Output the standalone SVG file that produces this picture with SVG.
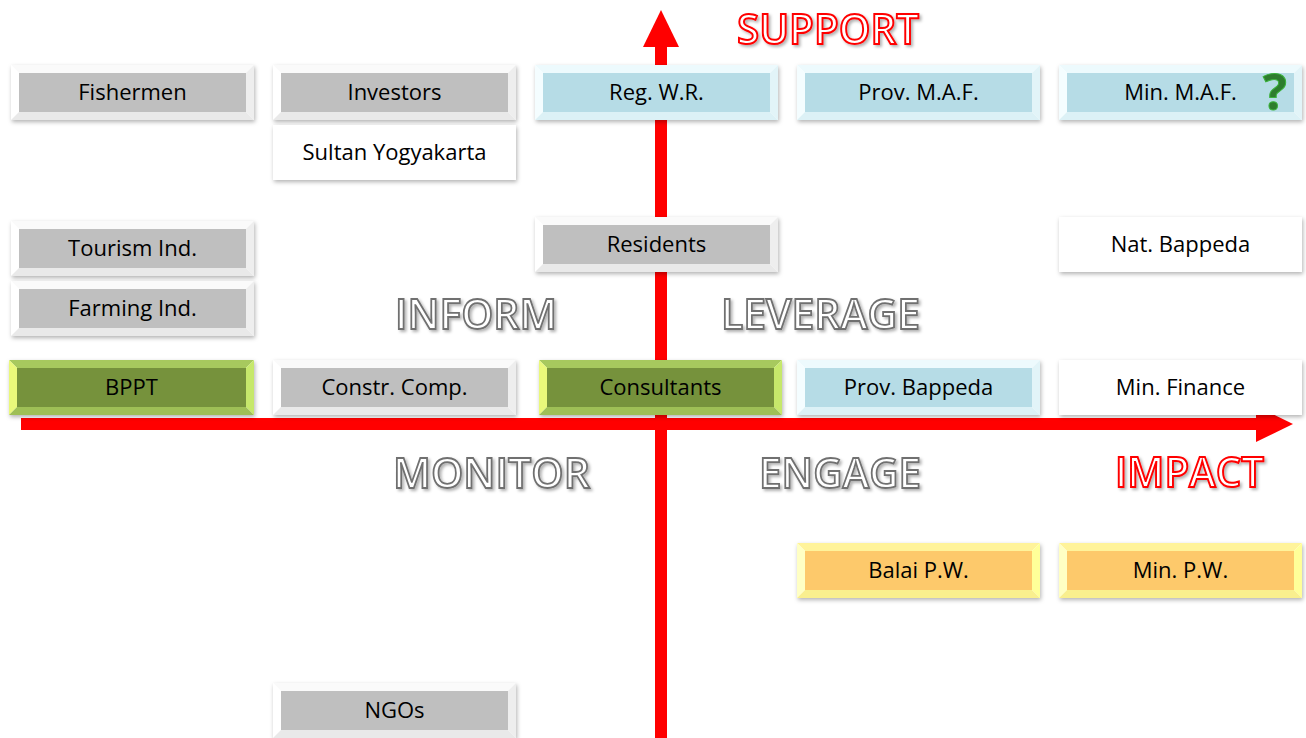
<svg xmlns="http://www.w3.org/2000/svg" width="1306" height="738" viewBox="0 0 1306 738">
  <defs>
    <filter id="boxShadow" x="-10%" y="-30%" width="120%" height="160%">
      <feDropShadow dx="1" dy="2" stdDeviation="2.2" flood-color="#000" flood-opacity="0.3"/>
    </filter>
    <filter id="textShadow" x="-10%" y="-30%" width="120%" height="160%">
      <feDropShadow dx="2" dy="2" stdDeviation="1.5" flood-color="#000" flood-opacity="0.3"/>
    </filter>
    <style>
      .lbl { font-family: "Open Sans", "Liberation Sans", sans-serif; font-size: 22px; fill: #000; text-anchor: middle; }
      .quad { font-family: "Open Sans", "Liberation Sans", sans-serif; font-weight: 600; font-size: 42px; fill: #fff; stroke: #707070; stroke-width: 1.8; filter: url(#textShadow); }
      .axis { font-family: "Open Sans", "Liberation Sans", sans-serif; font-weight: 600; font-size: 42px; fill: #fff; stroke: #ff0000; stroke-width: 2; filter: url(#textShadow); }
      .q { font-family: "Open Sans", "Liberation Sans", sans-serif; font-weight: 700; font-size: 50px; fill: #2e7d2e; stroke: #3bb33b; stroke-width: 1; }
      .arrow { fill: #ff0000; }
      .frame { filter: url(#boxShadow); }
      /* grey bevel */
      .grey .bt { fill: #fafafa; } .grey .bl { fill: #ffffff; } .grey .br { fill: #eeeeee; } .grey .bb { fill: #e9e9e9; } .grey .in { fill: #bfbfbf; }
      /* blue bevel */
      .blue .bt { fill: #edfafd; } .blue .bl { fill: #f4fdff; } .blue .br { fill: #e2f4f8; } .blue .bb { fill: #dcf1f6; } .blue .in { fill: #b6dce6; }
      /* green bevel */
      .green .bt { fill: #a7c95e; } .green .bl { fill: #e9f87b; } .green .br { fill: #c6e86b; } .green .bb { fill: #9ebf56; } .green .in { fill: #76923c; }
      /* orange bevel */
      .orange .bt { fill: #fff39a; } .orange .bl { fill: #ffffc4; } .orange .br { fill: #ffff99; } .orange .bb { fill: #f9ef8e; } .orange .in { fill: #fdc96b; }
      .plain .in { fill: #ffffff; }
    </style>
  </defs>

  <rect width="1306" height="738" fill="#ffffff"/>

  <!-- axes -->
  <g id="connectors">
    <rect class="arrow" x="655" y="45" width="12" height="693"/>
    <polygon class="arrow" points="661,10 643,47 679,47"/>
    <rect class="arrow" x="21" y="418" width="1237" height="12"/>
    <polygon class="arrow" points="1256,406 1293,424 1256,442"/>
  </g>

  <!-- quadrant and axis titles -->
  <g id="titles">
    <text class="axis" x="737" y="44" textLength="182" lengthAdjust="spacingAndGlyphs">SUPPORT</text>
    <text class="axis" x="1115" y="487" textLength="149" lengthAdjust="spacingAndGlyphs">IMPACT</text>
    <text class="quad" x="395" y="329" textLength="162" lengthAdjust="spacingAndGlyphs">INFORM</text>
    <text class="quad" x="721" y="329" textLength="199" lengthAdjust="spacingAndGlyphs">LEVERAGE</text>
    <text class="quad" x="393" y="488" textLength="197" lengthAdjust="spacingAndGlyphs">MONITOR</text>
    <text class="quad" x="759" y="488" textLength="162" lengthAdjust="spacingAndGlyphs">ENGAGE</text>
  </g>

  <!-- stakeholders -->
  <g id="fishermen" class="grey" transform="translate(11,65)">
    <rect class="frame" width="243" height="55" fill="#fff"/>
    <polygon class="bt" points="0,0 243,0 235,8 8,8"/><polygon class="bl" points="0,0 8,8 8,47 0,55"/><polygon class="br" points="243,0 243,55 235,47 235,8"/><polygon class="bb" points="0,55 8,47 235,47 243,55"/>
    <rect class="in" x="8" y="8" width="227" height="39"/>
    <text class="lbl" x="121.5" y="35">Fishermen</text>
  </g>
  <g id="investors" class="grey" transform="translate(273,65)">
    <rect class="frame" width="243" height="55" fill="#fff"/>
    <polygon class="bt" points="0,0 243,0 235,8 8,8"/><polygon class="bl" points="0,0 8,8 8,47 0,55"/><polygon class="br" points="243,0 243,55 235,47 235,8"/><polygon class="bb" points="0,55 8,47 235,47 243,55"/>
    <rect class="in" x="8" y="8" width="227" height="39"/>
    <text class="lbl" x="121.5" y="35">Investors</text>
  </g>
  <g id="reg-wr" class="blue" transform="translate(535,65)">
    <rect class="frame" width="243" height="55" fill="#fff"/>
    <polygon class="bt" points="0,0 243,0 235,8 8,8"/><polygon class="bl" points="0,0 8,8 8,47 0,55"/><polygon class="br" points="243,0 243,55 235,47 235,8"/><polygon class="bb" points="0,55 8,47 235,47 243,55"/>
    <rect class="in" x="8" y="8" width="227" height="39"/>
    <text class="lbl" x="121.5" y="35">Reg. W.R.</text>
  </g>
  <g id="prov-maf" class="blue" transform="translate(797,65)">
    <rect class="frame" width="243" height="55" fill="#fff"/>
    <polygon class="bt" points="0,0 243,0 235,8 8,8"/><polygon class="bl" points="0,0 8,8 8,47 0,55"/><polygon class="br" points="243,0 243,55 235,47 235,8"/><polygon class="bb" points="0,55 8,47 235,47 243,55"/>
    <rect class="in" x="8" y="8" width="227" height="39"/>
    <text class="lbl" x="121.5" y="35">Prov. M.A.F.</text>
  </g>
  <g id="min-maf" class="blue" transform="translate(1059,65)">
    <rect class="frame" width="243" height="55" fill="#fff"/>
    <polygon class="bt" points="0,0 243,0 235,8 8,8"/><polygon class="bl" points="0,0 8,8 8,47 0,55"/><polygon class="br" points="243,0 243,55 235,47 235,8"/><polygon class="bb" points="0,55 8,47 235,47 243,55"/>
    <rect class="in" x="8" y="8" width="227" height="39"/>
    <text class="lbl" x="121.5" y="35">Min. M.A.F.</text>
    <text class="q" x="204" y="45">?</text>
  </g>
  <g id="sultan" class="plain" transform="translate(273,125)">
    <rect class="frame in" width="243" height="55"/>
    <text class="lbl" x="121.5" y="35">Sultan Yogyakarta</text>
  </g>
  <g id="tourism" class="grey" transform="translate(11,221)">
    <rect class="frame" width="243" height="55" fill="#fff"/>
    <polygon class="bt" points="0,0 243,0 235,8 8,8"/><polygon class="bl" points="0,0 8,8 8,47 0,55"/><polygon class="br" points="243,0 243,55 235,47 235,8"/><polygon class="bb" points="0,55 8,47 235,47 243,55"/>
    <rect class="in" x="8" y="8" width="227" height="39"/>
    <text class="lbl" x="121.5" y="35">Tourism Ind.</text>
  </g>
  <g id="residents" class="grey" transform="translate(535,217)">
    <rect class="frame" width="243" height="55" fill="#fff"/>
    <polygon class="bt" points="0,0 243,0 235,8 8,8"/><polygon class="bl" points="0,0 8,8 8,47 0,55"/><polygon class="br" points="243,0 243,55 235,47 235,8"/><polygon class="bb" points="0,55 8,47 235,47 243,55"/>
    <rect class="in" x="8" y="8" width="227" height="39"/>
    <text class="lbl" x="121.5" y="35">Residents</text>
  </g>
  <g id="nat-bappeda" class="plain" transform="translate(1059,217)">
    <rect class="frame in" width="243" height="55"/>
    <text class="lbl" x="121.5" y="35">Nat. Bappeda</text>
  </g>
  <g id="farming" class="grey" transform="translate(11,281)">
    <rect class="frame" width="243" height="55" fill="#fff"/>
    <polygon class="bt" points="0,0 243,0 235,8 8,8"/><polygon class="bl" points="0,0 8,8 8,47 0,55"/><polygon class="br" points="243,0 243,55 235,47 235,8"/><polygon class="bb" points="0,55 8,47 235,47 243,55"/>
    <rect class="in" x="8" y="8" width="227" height="39"/>
    <text class="lbl" x="121.5" y="35">Farming Ind.</text>
  </g>
  <g id="bppt" class="green" transform="translate(9,360)">
    <rect class="frame" width="245" height="55" fill="#fff"/>
    <polygon class="bt" points="0,0 245,0 237,8 8,8"/><polygon class="bl" points="0,0 8,8 8,47 0,55"/><polygon class="br" points="245,0 245,55 237,47 237,8"/><polygon class="bb" points="0,55 8,47 237,47 245,55"/>
    <rect class="in" x="8" y="8" width="229" height="39"/>
    <text class="lbl" x="122.5" y="35">BPPT</text>
  </g>
  <g id="constr" class="grey" transform="translate(273,360)">
    <rect class="frame" width="243" height="55" fill="#fff"/>
    <polygon class="bt" points="0,0 243,0 235,8 8,8"/><polygon class="bl" points="0,0 8,8 8,47 0,55"/><polygon class="br" points="243,0 243,55 235,47 235,8"/><polygon class="bb" points="0,55 8,47 235,47 243,55"/>
    <rect class="in" x="8" y="8" width="227" height="39"/>
    <text class="lbl" x="121.5" y="35">Constr. Comp.</text>
  </g>
  <g id="consultants" class="green" transform="translate(539,360)">
    <rect class="frame" width="243" height="55" fill="#fff"/>
    <polygon class="bt" points="0,0 243,0 235,8 8,8"/><polygon class="bl" points="0,0 8,8 8,47 0,55"/><polygon class="br" points="243,0 243,55 235,47 235,8"/><polygon class="bb" points="0,55 8,47 235,47 243,55"/>
    <rect class="in" x="8" y="8" width="227" height="39"/>
    <text class="lbl" x="121.5" y="35">Consultants</text>
  </g>
  <g id="prov-bappeda" class="blue" transform="translate(797,360)">
    <rect class="frame" width="243" height="55" fill="#fff"/>
    <polygon class="bt" points="0,0 243,0 235,8 8,8"/><polygon class="bl" points="0,0 8,8 8,47 0,55"/><polygon class="br" points="243,0 243,55 235,47 235,8"/><polygon class="bb" points="0,55 8,47 235,47 243,55"/>
    <rect class="in" x="8" y="8" width="227" height="39"/>
    <text class="lbl" x="121.5" y="35">Prov. Bappeda</text>
  </g>
  <g id="min-finance" class="plain" transform="translate(1059,360)">
    <rect class="frame in" width="243" height="55"/>
    <text class="lbl" x="121.5" y="35">Min. Finance</text>
  </g>
  <g id="balai-pw" class="orange" transform="translate(797,543)">
    <rect class="frame" width="243" height="55" fill="#fff"/>
    <polygon class="bt" points="0,0 243,0 235,8 8,8"/><polygon class="bl" points="0,0 8,8 8,47 0,55"/><polygon class="br" points="243,0 243,55 235,47 235,8"/><polygon class="bb" points="0,55 8,47 235,47 243,55"/>
    <rect class="in" x="8" y="8" width="227" height="39"/>
    <text class="lbl" x="121.5" y="35">Balai P.W.</text>
  </g>
  <g id="min-pw" class="orange" transform="translate(1059,543)">
    <rect class="frame" width="243" height="55" fill="#fff"/>
    <polygon class="bt" points="0,0 243,0 235,8 8,8"/><polygon class="bl" points="0,0 8,8 8,47 0,55"/><polygon class="br" points="243,0 243,55 235,47 235,8"/><polygon class="bb" points="0,55 8,47 235,47 243,55"/>
    <rect class="in" x="8" y="8" width="227" height="39"/>
    <text class="lbl" x="121.5" y="35">Min. P.W.</text>
  </g>
  <g id="ngos" class="grey" transform="translate(273,683)">
    <rect class="frame" width="243" height="55" fill="#fff"/>
    <polygon class="bt" points="0,0 243,0 235,8 8,8"/><polygon class="bl" points="0,0 8,8 8,47 0,55"/><polygon class="br" points="243,0 243,55 235,47 235,8"/><polygon class="bb" points="0,55 8,47 235,47 243,55"/>
    <rect class="in" x="8" y="8" width="227" height="39"/>
    <text class="lbl" x="121.5" y="35">NGOs</text>
  </g>
</svg>
